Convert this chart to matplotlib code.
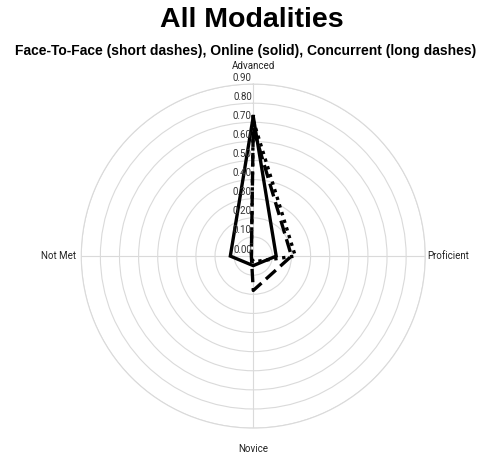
import numpy as np
import matplotlib.pyplot as plt
from matplotlib.transforms import offset_copy

categories = ["Advanced", "Proficient", "Novice", "Not Met"]
face_to_face = [0.71, 0.22, 0.03, 0.01]
online = [0.73, 0.12, 0.05, 0.12]
concurrent = [0.67, 0.20, 0.18, 0.01]
r_ticks = [0.0, 0.1, 0.2, 0.3, 0.4, 0.5, 0.6, 0.7, 0.8, 0.9]

grid_col = "#dadada"

fig = plt.figure(figsize=(4.91, 4.61), dpi=100)
ax = fig.add_axes([0.1655, 0.0714, 0.7006, 0.7462], projection="polar")
ax.set_theta_offset(np.pi / 2)
ax.set_theta_direction(-1)

angles = np.linspace(0, 2 * np.pi, len(categories), endpoint=False)


def closed(vals):
    return np.append(angles, angles[0]), np.append(vals, vals[0])


t, r = closed(online)
ax.plot(t, r, color="black", lw=2.4, solid_joinstyle="miter")
t, r = closed(face_to_face)
ax.plot(t, r, color="black", lw=2.4, linestyle=(0, (1, 1.4)),
        dash_capstyle="butt")
t, r = closed(concurrent)
ax.plot(t, r, color="black", lw=2.4, linestyle=(0, (4, 1.8)),
        dash_capstyle="butt")

ax.set_ylim(0, 0.9)
ax.set_yticks(r_ticks[1:])
ax.set_yticklabels([])
ax.set_xticks(angles)
ax.set_xticklabels([])
ax.grid(True, color=grid_col, lw=0.8)
ax.spines["polar"].set_color(grid_col)
ax.spines["polar"].set_linewidth(0.8)
ax.tick_params(length=0)

# radial labels along the top spoke
lab_tr = offset_copy(ax.transData, fig=fig, x=-1.5, y=1.5, units="dots")
for v in r_ticks:
    ax.text(0, v, f"{v:.2f}", transform=lab_tr, ha="right", va="bottom",
            fontsize=7, family="Roboto", color="#333333")

# category labels
offsets = [(0, 18, "center", "center"), (2, 0, "left", "center"),
           (0, -21, "center", "center"), (-5, 0, "right", "center")]
for a, name, (dx, dy, ha, va) in zip(angles, categories, offsets):
    tr = offset_copy(ax.transData, fig=fig, x=dx, y=dy, units="dots")
    ax.text(a, 0.9, name, transform=tr, ha=ha, va=va, fontsize=7,
            family="Roboto", color="#222222")

fig.text(0.513, 0.957, "All Modalities", ha="center", va="center",
         fontsize=20.5, fontweight="bold", family="Liberation Sans")
fig.text(0.5, 0.889,
         "Face-To-Face (short dashes), Online (solid), Concurrent (long dashes)",
         ha="center", va="center", fontsize=10, fontweight="bold",
         family="Liberation Sans")

fig.savefig("out.png", dpi=100)
